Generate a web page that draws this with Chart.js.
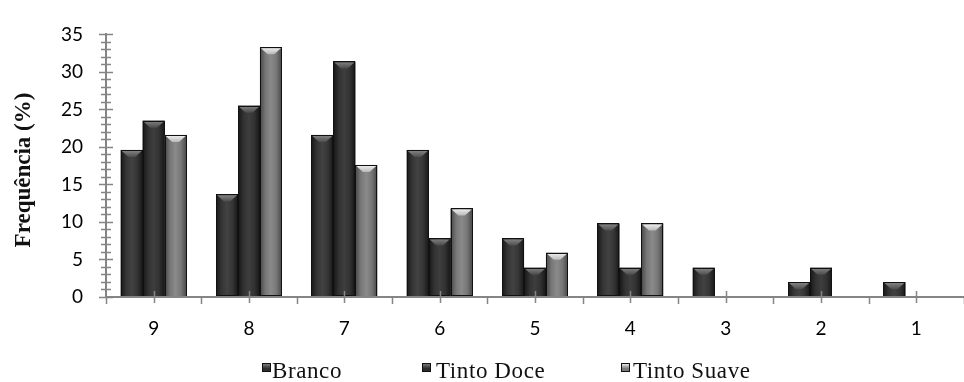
<!DOCTYPE html>
<html><head><meta charset="utf-8">
<script src="https://cdn.jsdelivr.net/npm/chart.js@4.4.0/dist/chart.umd.min.js"></script>
<style>
html,body{margin:0;padding:0;background:#fff;}
#wrap{position:relative;width:964px;height:382px;overflow:hidden;background:#fff;}
#c{position:absolute;left:0;top:0;}
.lg{position:absolute;top:359px;font-family:'Liberation Serif','Times New Roman',serif;font-size:23px;line-height:23px;letter-spacing:0.6px;color:#111;white-space:nowrap;}
.bx{position:absolute;top:363px;width:9px;height:9px;border:1px solid #111;box-sizing:border-box;}
</style></head><body>
<div id="wrap"><canvas id="c" width="964" height="382"></canvas><div id="legend"></div></div>
<script>
const categories = ['9','8','7','6','5','4','3','2','1'];
const seriesNames = ['Branco','Tinto Doce','Tinto Suave'];
const branco     = [19.6, 13.7, 21.6, 19.6, 7.8, 9.8, 3.9, 2.0, 2.0];
const tintoDoce  = [23.5, 25.5, 31.4,  7.8, 3.9, 3.9, 0,   3.9, 0];
const tintoSuave = [21.6, 33.3, 17.6, 11.8, 5.9, 9.8, 0,   0,   0];
const yMin = 0, yMax = 35, yMajorStep = 5, yMinorStep = 1;
const yTitle = 'Frequência (%)';

const styles = [
  {base:'#333333', body:[[0,'#181818'],[0.25,'#353535'],[0.5,'#424242'],[0.75,'#353535'],[1,'#181818']], bevel:['#8a8a8a','#4e4e4e'], box:'linear-gradient(#7a7a7a,#2e2e2e 65%)'},
  {base:'#303030', body:[[0,'#161616'],[0.25,'#323232'],[0.5,'#3e3e3e'],[0.75,'#323232'],[1,'#161616']], bevel:['#858585','#4a4a4a'], box:'linear-gradient(#767676,#2b2b2b 65%)'},
  {base:'#7a7a7a', body:[[0,'#474747'],[0.25,'#777777'],[0.5,'#8a8a8a'],[0.75,'#777777'],[1,'#474747']], bevel:['#f4f4f4','#b8b8b8'], box:'linear-gradient(#e6e6e6,#7a7a7a 65%)'}
];
const legendBoxX = [262, 422, 621];
const legendTextX = [272, 436, 633];

const axisColor = '#858585';

const fxPlugin = {
  id: 'fx',
  afterDatasetsDraw(chart) {
    const ctx = chart.ctx;
    chart.data.datasets.forEach((ds, di) => {
      const meta = chart.getDatasetMeta(di);
      const st = styles[di];
      meta.data.forEach(el => {
        const p = el.getProps(['x','y','base','width'], true);
        const h = p.base - p.y;
        if (!(h > 0.5)) return;
        const l = p.x - p.width/2, r = p.x + p.width/2;
        ctx.save();
        const g = ctx.createLinearGradient(l, 0, r, 0);
        st.body.forEach(([o,c]) => g.addColorStop(o, c));
        ctx.fillStyle = g;
        ctx.fillRect(l, p.y, p.width, h);
        const bh = Math.min(7, h/2);
        const tg = ctx.createLinearGradient(0, p.y, 0, p.y + bh);
        tg.addColorStop(0, st.bevel[0]); tg.addColorStop(1, st.bevel[1]);
        ctx.fillStyle = tg;
        ctx.beginPath();
        ctx.moveTo(l + 1, p.y + 1);
        ctx.lineTo(r - 1, p.y + 1);
        ctx.lineTo(p.x + p.width*0.15, p.y + bh);
        ctx.lineTo(p.x - p.width*0.15, p.y + bh);
        ctx.closePath();
        ctx.fill();
        ctx.strokeStyle = '#111111';
        ctx.lineWidth = 1;
        ctx.strokeRect(Math.round(l) + 0.5, Math.round(p.y) + 0.5, Math.round(p.width) - 1, Math.round(h) - 1);
        ctx.restore();
      });
    });
    const xs = chart.scales.x, ys = chart.scales.y;
    const y0 = ys.getPixelForValue(yMin);
    ctx.save();
    ctx.strokeStyle = axisColor;
    ctx.lineWidth = 2;
    ctx.beginPath();
    ctx.moveTo(xs.left, y0); ctx.lineTo(chart.width, y0);
    ctx.stroke();
    ctx.lineWidth = 1.5;
    ctx.beginPath();
    for (let i = 0; i <= categories.length; i++) {
      const px = Math.round(xs.getPixelForValue(i - 0.5)) + 0.5;
      ctx.moveTo(px, y0); ctx.lineTo(px, y0 + 7);
    }
    for (let i = 0; i < categories.length; i++) {
      const px = Math.round(xs.getPixelForValue(i)) + 0.5;
      ctx.moveTo(px, y0 - 6); ctx.lineTo(px, y0 + 6);
    }
    const ax = xs.left;
    for (let v = yMin; v <= yMax; v += yMinorStep) {
      const py = Math.round(ys.getPixelForValue(v)) + 0.5;
      const w = (v % yMajorStep === 0) ? 7 : 5;
      ctx.moveTo(ax - w, py); ctx.lineTo(ax + w, py);
    }
    ctx.stroke();
    ctx.restore();
    ctx.save();
    ctx.translate(24, 170);
    ctx.rotate(-Math.PI/2);
    ctx.fillStyle = '#111';
    ctx.font = 'bold 23px "Liberation Serif"';
    ctx.textAlign = 'center';
    ctx.textBaseline = 'middle';
    ctx.fillText(yTitle, 0, 0);
    ctx.restore();
  }
};

const seriesData = [branco, tintoDoce, tintoSuave];
new Chart(document.getElementById('c'), {
  type: 'bar',
  data: {
    labels: categories,
    datasets: seriesNames.map((n, i) => ({
      label: n,
      data: seriesData[i],
      backgroundColor: styles[i].base,
      borderWidth: 0,
      categoryPercentage: 0.69,
      barPercentage: 1.0
    }))
  },
  options: {
    responsive: false,
    animation: false,
    devicePixelRatio: 1,
    layout: {padding: {left: 0, right: -3, top: 18, bottom: 0}},
    plugins: {legend: {display: false}, tooltip: {enabled: false}},
    scales: {
      x: {
        grid: {display: true, drawOnChartArea: false, drawTicks: false},
        border: {display: true, color: axisColor, width: 2},
        ticks: {padding: 20, color: '#000', font: {family: 'Lato', size: 19}},
        afterFit(s) { s.height = 85; }
      },
      y: {
        min: yMin, max: yMax,
        grid: {display: true, drawOnChartArea: false, drawTicks: false},
        border: {display: true, color: axisColor, width: 2},
        ticks: {stepSize: yMinorStep, autoSkip: false, padding: 23, color: '#000', font: {family: 'Lato', size: 19},
          callback: v => (v % yMajorStep === 0 ? String(v) : '')},
        afterFit(s) { s.width = 106; }
      }
    }
  },
  plugins: [fxPlugin]
});

const lg = document.getElementById('legend');
seriesNames.forEach((n, i) => {
  const b = document.createElement('div');
  b.className = 'bx';
  b.style.left = legendBoxX[i] + 'px';
  b.style.background = styles[i].box;
  lg.appendChild(b);
  const t = document.createElement('div');
  t.className = 'lg';
  t.style.left = legendTextX[i] + 'px';
  t.textContent = n;
  lg.appendChild(t);
});
</script>
</body></html>
